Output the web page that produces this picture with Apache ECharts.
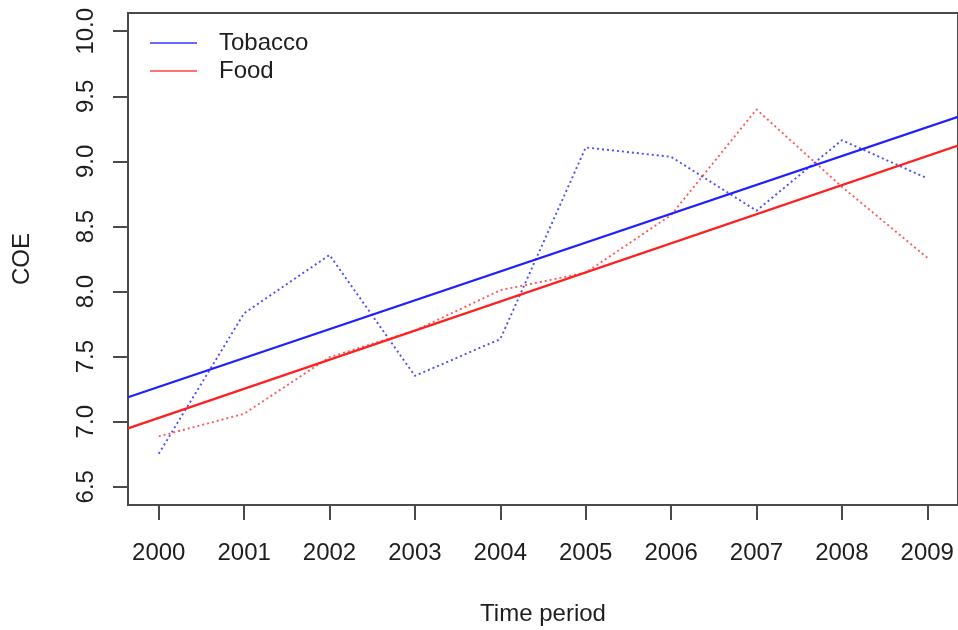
<!DOCTYPE html>
<html>
<head>
<meta charset="utf-8">
<title>COE over time: Tobacco vs Food</title>
<script src="https://cdn.jsdelivr.net/npm/echarts@6/dist/echarts.min.js"></script>
<style>
  html, body { margin: 0; padding: 0; background: #ffffff; }
  #chart { width: 958px; height: 630px; }
</style>
</head>
<body>
<div id="chart"></div>
<script>
// Years on the x-axis
const years = [2000, 2001, 2002, 2003, 2004, 2005, 2006, 2007, 2008, 2009];
// Yearly COE values per sector
const tobacco = [6.754, 7.833, 8.281, 7.352, 7.635, 9.107, 9.035, 8.621, 9.163, 8.870];
const food = [6.887, 7.061, 7.496, 7.700, 8.010, 8.145, 8.588, 9.399, 8.805, 8.260];
// Tick positions
const yTicks = [6.5, 7.0, 7.5, 8.0, 8.5, 9.0, 9.5, 10.0];
const xTicks = years;

// Axis limits padded by 4% of the data range on each side
const xMin = 1999.64, xMax = 2009.36;
const yMin = 6.36, yMax = 10.14;

const FONT = "'Liberation Sans', Arial, Helvetica, sans-serif";
const TEXT = '#1e1e1e';
const FRAME = '#4a4a4a';

// Ordinary least squares fit, evaluated across the full x range
function fitLine(xs, ys) {
  const n = xs.length;
  const mx = xs.reduce((a, b) => a + b, 0) / n;
  const my = ys.reduce((a, b) => a + b, 0) / n;
  let sxy = 0, sxx = 0;
  for (let i = 0; i < n; i++) {
    sxy += (xs[i] - mx) * (ys[i] - my);
    sxx += (xs[i] - mx) * (xs[i] - mx);
  }
  const b = sxy / sxx;
  const a = my - b * mx;
  return [[xMin, a + b * xMin], [xMax, a + b * xMax]];
}

const pairs = (xs, ys) => xs.map((x, i) => [x, ys[i]]);

const chart = echarts.init(document.getElementById('chart'), null, { renderer: 'canvas' });

chart.setOption({
  animation: false,
  backgroundColor: '#ffffff',
  textStyle: { fontFamily: FONT },
  grid: {
    left: 128, top: 13, width: 831, height: 492,
    show: true, borderColor: FRAME, borderWidth: 2, backgroundColor: 'transparent'
  },
  legend: {
    orient: 'vertical',
    left: 150, top: 31, padding: 0, itemGap: 4,
    itemWidth: 47, itemHeight: 2,
    selectedMode: false,
    textStyle: { fontFamily: FONT, fontSize: 24, color: TEXT, lineHeight: 24, padding: [0, 0, 0, 17] },
    data: [
      { name: 'Tobacco', icon: 'rect', itemStyle: { color: 'rgba(40,40,255,0.7)' } },
      { name: 'Food', icon: 'rect', itemStyle: { color: 'rgba(255,40,40,0.65)' } }
    ]
  },
  xAxis: {
    type: 'value', min: xMin, max: xMax,
    splitLine: { show: false },
    axisLine: { show: false },
    axisTick: { show: true, inside: false, length: 15, customValues: xTicks, lineStyle: { color: FRAME, width: 2 } },
    axisLabel: {
      customValues: xTicks, margin: 36,
      fontFamily: FONT, fontSize: 24, color: TEXT,
      formatter: v => String(Math.round(v))
    }
  },
  yAxis: {
    type: 'value', min: yMin, max: yMax,
    splitLine: { show: false },
    axisLine: { show: false },
    axisTick: { show: true, inside: false, length: 15, customValues: yTicks, lineStyle: { color: FRAME, width: 2 } },
    axisLabel: {
      customValues: yTicks, margin: 30, rotate: 90,
      fontFamily: FONT, fontSize: 24, color: TEXT,
      formatter: v => v.toFixed(1)
    }
  },
  graphic: [
    {
      type: 'text', x: 543, y: 614,
      style: { text: 'Time period', fontFamily: FONT, fontSize: 24, fill: TEXT, align: 'center', verticalAlign: 'middle' }
    },
    {
      type: 'text', x: 22, y: 259, rotation: Math.PI / 2,
      style: { text: 'COE', fontFamily: FONT, fontSize: 24, fill: TEXT, align: 'center', verticalAlign: 'middle' }
    }
  ],
  series: [
    {
      name: 'Tobacco', type: 'line', data: pairs(years, tobacco),
      showSymbol: false, symbol: 'none', clip: true,
      lineStyle: { color: 'rgba(0,0,255,0.7)', width: 1.9, type: [2, 3] },
      itemStyle: { color: 'rgba(0,0,255,0.6)' }, z: 2
    },
    {
      name: 'Food', type: 'line', data: pairs(years, food),
      showSymbol: false, symbol: 'none', clip: true,
      lineStyle: { color: 'rgba(255,0,0,0.65)', width: 1.9, type: [2, 3] },
      itemStyle: { color: 'rgba(255,0,0,0.6)' }, z: 2
    },
    {
      name: 'Tobacco fit', type: 'line', data: fitLine(years, tobacco),
      showSymbol: false, symbol: 'none', clip: true,
      lineStyle: { color: '#1f1fff', width: 2.3 }, z: 3
    },
    {
      name: 'Food fit', type: 'line', data: fitLine(years, food),
      showSymbol: false, symbol: 'none', clip: true,
      lineStyle: { color: '#ff1f1f', width: 2.3 }, z: 3
    }
  ]
});
</script>
</body>
</html>
